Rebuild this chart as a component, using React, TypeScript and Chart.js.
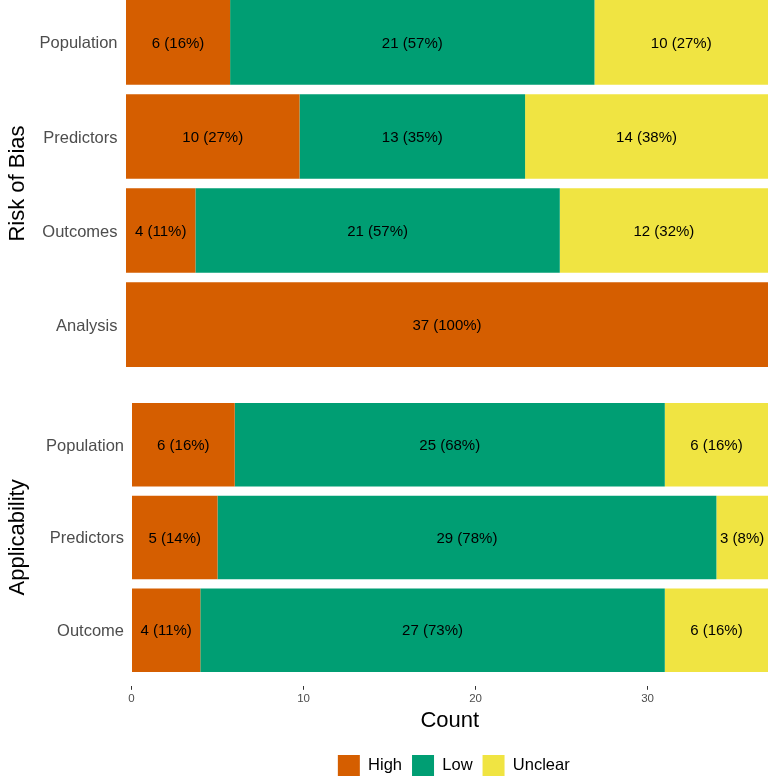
import React, { useEffect, useRef } from "react";
import { Chart, registerables } from "chart.js";

Chart.register(...registerables);

const TOTAL = 37;

const riskCategories = ["Population", "Predictors", "Outcomes", "Analysis"];
const riskHigh = [6, 10, 4, 37];
const riskLow = [21, 13, 21, 0];
const riskUnclear = [10, 14, 12, 0];

const applCategories = ["Population", "Predictors", "Outcome"];
const applHigh = [6, 5, 4];
const applLow = [25, 29, 27];
const applUnclear = [6, 3, 6];

const seriesNames = ["High", "Low", "Unclear"];
const seriesColors = ["#D55E00", "#009E73", "#F0E442"];
const xTickValues = [0, 10, 20, 30];

const FONT = '"Liberation Sans", Arial, Helvetica, sans-serif';

const barLabelPlugin = {
  id: "barLabels",
  afterDatasetsDraw(chart: any) {
    const ctx = chart.ctx;
    ctx.save();
    ctx.font = `15px ${FONT}`;
    ctx.fillStyle = "#000000";
    ctx.textAlign = "center";
    ctx.textBaseline = "middle";
    chart.data.datasets.forEach((ds: any, di: number) => {
      const meta = chart.getDatasetMeta(di);
      meta.data.forEach((el: any, i: number) => {
        const v = ds.data[i].x;
        if (!v) return;
        const p = el.getProps(["x", "base", "y"], true);
        const pct = Math.round((v / TOTAL) * 100);
        ctx.fillText(`${v} (${pct}%)`, (p.x + p.base) / 2, p.y + 1);
      });
    });
    ctx.restore();
  },
};

const legendShiftPlugin = {
  id: "legendShift",
  afterLayout(chart: any) {
    const lg = chart.legend;
    if (lg && lg.options && lg.options.display) {
      lg.left += 4;
      lg.right += 4;
    }
  },
};

function buildConfig(
  categories: string[],
  series: number[][],
  title: string,
  leftWidth: number,
  tickPad: number,
  isBottom: boolean
): any {
  const datasets = series.map((vals, si) => ({
    label: seriesNames[si],
    data: vals.map((v, i) => ({ x: v, y: i })),
    backgroundColor: seriesColors[si],
    borderWidth: 0,
    categoryPercentage: 1,
    barPercentage: 0.9,
  }));

  const xScale: any = isBottom
    ? {
        type: "linear",
        min: 0,
        max: TOTAL,
        stacked: true,
        offset: false,
        afterBuildTicks: (scale: any) => {
          scale.ticks = xTickValues.map((v) => ({ value: v }));
        },
        grid: {
          drawOnChartArea: false,
          drawTicks: true,
          tickLength: 4,
          color: "#333333",
          lineWidth: 1,
        },
        border: { display: false },
        ticks: {
          padding: 2,
          color: "#4D4D4D",
          maxRotation: 0,
          font: { family: FONT, size: 11.5 },
        },
        title: {
          display: true,
          text: "Count",
          color: "#000000",
          font: { family: FONT, size: 22 },
          padding: { top: 0, bottom: 11 },
        },
      }
    : { type: "linear", min: 0, max: TOTAL, stacked: true, display: false };

  return {
    type: "bar",
    data: { datasets },
    options: {
      indexAxis: "y",
      animation: false,
      responsive: false,
      devicePixelRatio: 1,
      layout: { padding: { top: 0, left: 0, right: 0, bottom: isBottom ? 2 : 0 } },
      scales: {
        x: xScale,
        y: {
          type: "linear",
          reverse: true,
          offset: false,
          min: -0.6,
          max: categories.length - 1 + 0.6,
          stacked: true,
          grid: { display: false, drawTicks: false, offset: false },
          border: { display: false },
          afterBuildTicks: (scale: any) => {
            scale.ticks = categories.map((_, i) => ({ value: i }));
          },
          afterFit: (scale: any) => {
            scale.width = leftWidth;
            scale.paddingTop = 0;
            scale.paddingBottom = 0;
          },
          ticks: {
            autoSkip: false,
            padding: tickPad,
            labelOffset: 1.5,
            color: "#4D4D4D",
            font: { family: FONT, size: 16.5 },
            callback: (v: any) => categories[Math.round(v)] ?? "",
          },
          title: {
            display: true,
            text: title,
            color: "#000000",
            font: { family: FONT, size: 22 },
            padding: { top: 5, bottom: 0 },
          },
        },
      },
      plugins: {
        legend: {
          display: isBottom,
          position: "bottom",
          fullSize: false,
          labels: {
            boxWidth: 22,
            boxHeight: 21,
            padding: 10,
            color: "#000000",
            font: { family: FONT, size: 16.5 },
          },
        },
        tooltip: { enabled: false },
      },
    },
    plugins: [barLabelPlugin, legendShiftPlugin],
  };
}

export default function App() {
  const topRef = useRef<HTMLCanvasElement | null>(null);
  const bottomRef = useRef<HTMLCanvasElement | null>(null);

  useEffect(() => {
    const charts: Chart[] = [];
    if (topRef.current) {
      charts.push(
        new Chart(
          topRef.current,
          buildConfig(
            riskCategories,
            [riskHigh, riskLow, riskUnclear],
            "Risk of Bias",
            126,
            8.5,
            false
          )
        )
      );
    }
    if (bottomRef.current) {
      charts.push(
        new Chart(
          bottomRef.current,
          buildConfig(
            applCategories,
            [applHigh, applLow, applUnclear],
            "Applicability",
            131.5,
            7.5,
            true
          )
        )
      );
    }
    return () => charts.forEach((c) => c.destroy());
  }, []);

  return (
    <div
      style={{
        position: "absolute",
        left: 0,
        top: 0,
        width: 768,
        height: 778,
        overflow: "hidden",
        background: "#ffffff",
      }}
    >
      <canvas
        ref={topRef}
        width={768}
        height={395}
        style={{ position: "absolute", left: 0, top: -14, width: 768, height: 395 }}
      />
      <canvas
        ref={bottomRef}
        width={768}
        height={399}
        style={{ position: "absolute", left: 0, top: 389, width: 768, height: 399 }}
      />
    </div>
  );
}
